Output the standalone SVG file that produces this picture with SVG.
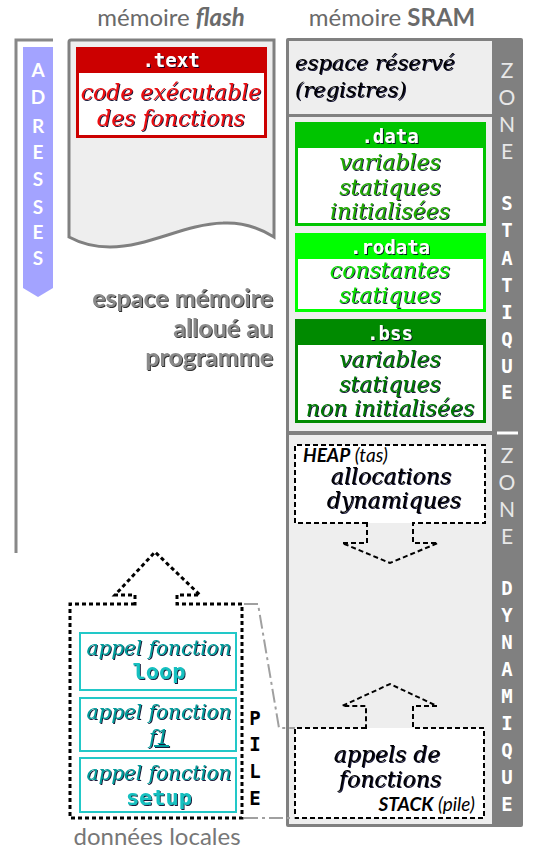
<svg xmlns="http://www.w3.org/2000/svg" width="538" height="853" viewBox="0 0 538 853">
<defs>
<filter id="sh" x="-10%" y="-20%" width="125%" height="150%"><feDropShadow dx="1" dy="1" stdDeviation="0.3" flood-color="#000022" flood-opacity="0.9"/></filter>
<filter id="shg" x="-10%" y="-20%" width="125%" height="150%"><feDropShadow dx="1" dy="1" stdDeviation="0.4" flood-color="#333333" flood-opacity="1"/></filter>
</defs>
<style>
.ttl{font-family:Lato,"Liberation Sans",sans-serif;font-size:24px;fill:#6a6a6a;text-anchor:middle}
.it{font-family:"DejaVu Serif",serif;font-style:italic;font-size:22px;text-anchor:middle}
.mono{font-family:"DejaVu Sans Mono",monospace;font-weight:bold;font-size:19px;fill:#fff;text-anchor:middle}
.strip{font-family:Lato,"Liberation Sans",sans-serif;font-size:21px;fill:#e8e8e8;text-anchor:middle}
.stripb{font-family:"DejaVu Sans Mono",monospace;font-weight:bold;font-size:19px;fill:#fff;text-anchor:middle}
.adr{font-family:Lato,"Liberation Sans",sans-serif;font-weight:bold;font-size:19px;fill:#fff;text-anchor:middle}
.dash{fill:none;stroke:#000;stroke-width:2;stroke-dasharray:5,3}
.dash3{fill:none;stroke:#000;stroke-width:3;stroke-dasharray:4,3}
.cyan{fill:#fff;stroke:#22c8c8;stroke-width:2}
.ctext{font-family:"DejaVu Serif",serif;font-style:italic;font-size:20px;fill:#009c9c;text-anchor:middle}
.cmono{font-family:"DejaVu Sans Mono",monospace;font-weight:bold;font-size:22px;fill:#14c0c0;text-anchor:middle}
.conn{fill:none;stroke:#a0a0a0;stroke-width:2;stroke-dasharray:14,4,3,4}
.sans{font-family:Lato,"Liberation Sans",sans-serif;font-style:italic;font-size:19px;fill:#000}
</style>
<rect width="538" height="853" fill="#fff"/>

<g id="address-axis">
<path d="M53,40 H16 V553" fill="none" stroke="#888" stroke-width="3"/>
<path d="M23,47 H53 V288 L38,297 L23,288 Z" fill="#a3a3ff"/>
<text class="adr" x="38" y="77">A</text>
<text class="adr" x="38" y="104">D</text>
<text class="adr" x="38" y="133">R</text>
<text class="adr" x="38" y="159">E</text>
<text class="adr" x="38" y="186">S</text>
<text class="adr" x="38" y="214">S</text>
<text class="adr" x="38" y="239">E</text>
<text class="adr" x="38" y="265">S</text>
</g>

<g id="flash">
<text class="ttl" x="171" y="26">mémoire <tspan font-weight="bold" font-style="italic">flash</tspan></text>
<path d="M69,42 Q69,40 71,40 H274 V237 C258,227 242,222 223,223 C185,224 148,247 110,247 C92,247 80,243 69,237 Z" fill="#eeeeee" stroke="#808080" stroke-width="3"/>
</g>

<g id="text-section">
<rect x="76" y="47" width="191" height="91" fill="#cc0000"/>
<rect x="79" y="73" width="185" height="62" fill="#fff"/>
<text class="mono" x="171" y="67" filter="url(#sh)">.text</text>
<text class="it" x="171" y="100" fill="#ee1111" filter="url(#sh)">code exécutable</text>
<text class="it" x="171" y="126" fill="#ee1111" filter="url(#sh)">des fonctions</text>
</g>

<g id="program-label">
<text font-family="Lato,'Liberation Sans',sans-serif" font-weight="bold" font-size="25" fill="#8a8a8a" text-anchor="end" filter="url(#shg)"><tspan x="273" y="307">espace mémoire</tspan><tspan x="273" y="337">alloué au</tspan><tspan x="273" y="366">programme</tspan></text>
</g>

<g id="sram">
<text class="ttl" x="392" y="26">mémoire <tspan font-weight="bold">SRAM</tspan></text>
<rect x="286" y="38" width="237" height="789" rx="2" fill="#808080"/>
<rect x="289" y="41" width="203" height="73" fill="#eeeeee"/>
<rect x="289" y="117" width="203" height="314" fill="#eeeeee"/>
<rect x="289" y="435" width="203" height="389" fill="#eeeeee"/>
<line x1="497" y1="433" x2="518" y2="433" stroke="#fff" stroke-width="3"/>
</g>

<g id="reserved">
<text font-family="'DejaVu Serif',serif" font-style="italic" font-size="21" fill="#000" filter="url(#sh)"><tspan x="295" y="70">espace réservé</tspan><tspan x="295" y="97">(registres)</tspan></text>
</g>

<g id="zone-statique">
<text class="strip" x="507" y="78">Z</text>
<text class="strip" x="507" y="105">O</text>
<text class="strip" x="507" y="132">N</text>
<text class="strip" x="507" y="159">E</text>
<text class="stripb" x="507" y="210">S</text>
<text class="stripb" x="507" y="237">T</text>
<text class="stripb" x="507" y="265">A</text>
<text class="stripb" x="507" y="292">T</text>
<text class="stripb" x="507" y="319">I</text>
<text class="stripb" x="507" y="346">Q</text>
<text class="stripb" x="507" y="373">U</text>
<text class="stripb" x="507" y="399">E</text>
</g>

<g id="zone-dynamique">
<text class="strip" x="507" y="463">Z</text>
<text class="strip" x="507" y="490">O</text>
<text class="strip" x="507" y="517">N</text>
<text class="strip" x="507" y="544">E</text>
<text class="stripb" x="507" y="595">D</text>
<text class="stripb" x="507" y="622">Y</text>
<text class="stripb" x="507" y="649">N</text>
<text class="stripb" x="507" y="676">A</text>
<text class="stripb" x="507" y="703">M</text>
<text class="stripb" x="507" y="730">I</text>
<text class="stripb" x="507" y="757">Q</text>
<text class="stripb" x="507" y="784">U</text>
<text class="stripb" x="507" y="811">E</text>
</g>

<g id="data">
<rect x="295" y="122" width="191" height="104" fill="#00c400"/>
<rect x="298" y="148" width="185" height="75" fill="#fff"/>
<text class="mono" x="390" y="143" filter="url(#sh)">.data</text>
<text class="it" x="390" y="170" fill="#22aa00" filter="url(#sh)">variables</text>
<text class="it" x="390" y="195" fill="#22aa00" filter="url(#sh)">statiques</text>
<text class="it" x="390" y="219" fill="#22aa00" filter="url(#sh)">initialisées</text>
</g>

<g id="rodata">
<rect x="295" y="233" width="191" height="79" fill="#00ff00"/>
<rect x="298" y="259" width="185" height="50" fill="#fff"/>
<text class="mono" x="390" y="254" filter="url(#sh)">.rodata</text>
<text class="it" x="390" y="278" fill="#11dd00" filter="url(#sh)">constantes</text>
<text class="it" x="390" y="303" fill="#11dd00" filter="url(#sh)">statiques</text>
</g>

<g id="bss">
<rect x="295" y="319" width="191" height="104" fill="#008a00"/>
<rect x="298" y="345" width="185" height="75" fill="#fff"/>
<text class="mono" x="390" y="340" filter="url(#sh)">.bss</text>
<text class="it" x="390" y="367" fill="#007a00" filter="url(#sh)">variables</text>
<text class="it" x="390" y="392" fill="#007a00" filter="url(#sh)">statiques</text>
<text class="it" x="390" y="416" fill="#007a00" filter="url(#sh)">non initialisées</text>
</g>

<g id="heap">
<rect x="295" y="445" width="190" height="78" fill="#fff"/>
<path class="dash" d="M367,523 H295 V445 H485 V523 H413 V543 H438 L390,563 L342,543 H367 Z"/>
<text class="sans" x="303" y="462"><tspan font-weight="bold">HEAP</tspan> (tas)</text>
<text class="it" x="391" y="484" fill="#000" filter="url(#sh)">allocations</text>
<text class="it" x="394" y="508" fill="#000" filter="url(#sh)">dynamiques</text>
</g>

<g id="stack">
<rect x="295" y="728" width="189" height="90" fill="#fff"/>
<path class="dash" d="M366,728 H295 V818 H484 V728 H413 V706 H437 L390,684 L342,706 H366 Z"/>
<text class="it" x="387" y="762" fill="#000" filter="url(#sh)">appels de</text>
<text class="it" x="390" y="787" fill="#000" filter="url(#sh)">fonctions</text>
<text class="sans" x="475" y="811" text-anchor="end"><tspan font-weight="bold">STACK</tspan> (pile)</text>
</g>

<g id="pile">
<path class="dash3" d="M135,604 H70 V818 H242 V604 H177 V595 H200 L155,552 L115,595 H135 Z"/>
<text class="stripb" x="255" y="725" style="fill:#000">P</text>
<text class="stripb" x="255" y="751" style="fill:#000">I</text>
<text class="stripb" x="255" y="778" style="fill:#000">L</text>
<text class="stripb" x="255" y="805" style="fill:#000">E</text>
<text class="ttl" x="157" y="845" style="fill:#777">données locales</text>
</g>

<g id="call-loop">
<rect class="cyan" x="80" y="633" width="156" height="57"/>
<text class="ctext" x="159" y="655" filter="url(#sh)">appel fonction</text>
<text class="cmono" x="159" y="679" filter="url(#sh)">loop</text>
</g>
<g id="call-f1">
<rect class="cyan" x="80" y="698" width="156" height="53"/>
<text class="ctext" x="159" y="719" filter="url(#sh)">appel fonction</text>
<text class="ctext" x="159" y="744" text-decoration="underline" filter="url(#sh)">f1</text>
</g>
<g id="call-setup">
<rect class="cyan" x="80" y="758" width="156" height="54"/>
<text class="ctext" x="159" y="780" filter="url(#sh)">appel fonction</text>
<text class="cmono" x="159" y="805" filter="url(#sh)">setup</text>
</g>

<g id="connectors">
<path class="conn" d="M244,604 H258 L279,728 H295"/>
<path class="conn" d="M244,818 H295"/>
</g>
</svg>
